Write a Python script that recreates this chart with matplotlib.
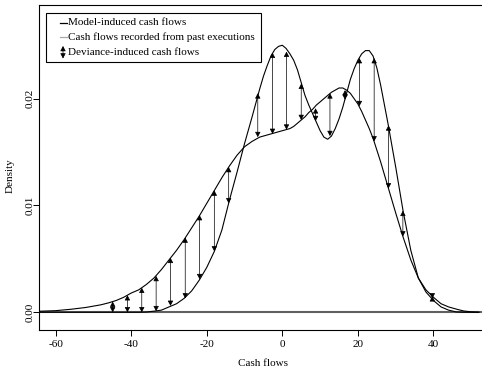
import matplotlib
matplotlib.use("Agg")
import matplotlib.pyplot as plt
from matplotlib.patches import Rectangle, FancyArrowPatch
from matplotlib.lines import Line2D

plt.rcParams["font.family"] = "Liberation Serif"
plt.rcParams["font.size"] = 8
plt.rcParams["axes.unicode_minus"] = False

# density curves
cash = [-64, -60, -56, -52, -48, -46, -44, -42, -40, -38, -36, -34, -32, -30, -28,
        -26, -24, -22, -20, -18, -16, -14, -12, -10, -8, -7, -6, -5, -4, -3, -2, -1,
        0, 1, 2, 3, 4, 5, 6, 7, 8, 9, 10, 11, 12, 13, 14, 15, 16, 17, 18, 19, 20,
        21, 22, 23, 24, 25, 26, 28, 30, 32, 34, 36, 38, 40, 42, 44, 46, 48, 50, 52]
model = [0, 0, 0, 0, 0, 0, 0, 0, 0, 0, 0.00002, 0.0001, 0.0002, 0.0005, 0.0008,
         0.0013, 0.0020, 0.0030, 0.0042, 0.0057, 0.0077, 0.0105, 0.0131, 0.0158,
         0.0183, 0.0196, 0.0209, 0.0221, 0.0231, 0.0240, 0.0246, 0.0249,
         0.0250, 0.0247, 0.0242, 0.0236, 0.0227, 0.0215, 0.0203, 0.0194, 0.0186,
         0.0178, 0.0170, 0.0164, 0.0162, 0.0165, 0.0172, 0.0181, 0.0192, 0.0205,
         0.0218, 0.0228, 0.0236, 0.0242, 0.0245, 0.0245, 0.0240, 0.0229, 0.0213,
         0.0176, 0.0136, 0.0094, 0.0058, 0.0032, 0.0019, 0.0011, 0.0005, 0.0002,
         0.00003, 0, 0, 0]
recorded = [0.0001, 0.00015, 0.00028, 0.00045, 0.0007, 0.00088, 0.0011, 0.0014,
            0.0018, 0.0021, 0.0026, 0.0032, 0.0040, 0.0049, 0.0058, 0.0068, 0.0079,
            0.0090, 0.0102, 0.0114, 0.0126, 0.0137, 0.0147, 0.0155, 0.0160, 0.0162,
            0.0164, 0.0165, 0.0166, 0.0167, 0.0168, 0.0169, 0.0170, 0.0171, 0.0172,
            0.0174, 0.0177, 0.0180, 0.0183, 0.0187, 0.0190, 0.0194, 0.0197, 0.0200,
            0.0203, 0.0206, 0.0208, 0.0210, 0.0210, 0.0208, 0.0205, 0.0200, 0.0195,
            0.0188, 0.0180, 0.0172, 0.0163, 0.0152, 0.0141, 0.0117, 0.0093, 0.0070,
            0.0049, 0.0032, 0.0021, 0.0014, 0.0008, 0.0005, 0.0003, 0.00012,
            0.00004, 0]

# deviance arrows: position, upper end, lower end
arrow_x = [-44.9, -41.0, -37.2, -33.4, -29.6, -25.7, -21.9, -18.0, -14.2, -6.5,
           -2.6, 1.1, 5.0, 8.8, 12.6, 16.6, 20.4, 24.3, 28.1, 31.9, 39.7]
arrow_hi = [0.0010, 0.0016, 0.0023, 0.0034, 0.0051, 0.0070, 0.0091, 0.0114,
            0.0136, 0.0205, 0.0243, 0.0244, 0.0214, 0.0191, 0.0205, 0.0208,
            0.0238, 0.0238, 0.0175, 0.0095, 0.0015]
arrow_lo = [0.0, 0.0, 0.0, 0.0001, 0.0006, 0.0013, 0.0031, 0.0057, 0.0102,
            0.0164, 0.0167, 0.0171, 0.0180, 0.0179, 0.0165, 0.0199, 0.0193,
            0.0160, 0.0116, 0.0071, 0.0013]

labels = ["Model-induced cash flows",
          "Cash flows recorded from past executions",
          "Deviance-induced cash flows"]

W, H = 482, 371
fig = plt.figure(figsize=(W / 100, H / 100), dpi=100)
ax = fig.add_axes([39 / W, 1 - 330 / H, (486 - 39) / W, (330 - 5) / H])

ax.axhline(0, color="#606060", lw=1.5, zorder=1)
ax.plot(cash, recorded, color="black", lw=0.8, zorder=2)
ax.plot(cash, model, color="black", lw=0.8, zorder=2)

astyle = "<|-|>,head_length=0.3,head_width=0.16"
for x, hi, lo in zip(arrow_x, arrow_hi, arrow_lo):
    ax.annotate("", xy=(x, hi), xytext=(x, lo),
                arrowprops=dict(arrowstyle=astyle, color="black", lw=0.5,
                                shrinkA=0, shrinkB=0, mutation_scale=10))

ax.set_xlim(-64.4, 53.9)
ax.set_ylim(-0.00166, 0.02877)
xt = [-60, -40, -20, 0, 20, 40]
ax.set_xticks(xt)
ax.set_xticklabels([str(v) for v in xt])
yt = [0.0, 0.01, 0.02]
ax.set_yticks(yt)
ax.set_yticklabels(["%.2f" % v for v in yt], rotation=90, va="center")
ax.tick_params(axis="x", length=4.3, width=0.7, pad=2.7)
ax.tick_params(axis="y", length=4.3, width=0.7, pad=-1.4)
for s in ax.spines.values():
    s.set_linewidth(0.8)

fig.text(262.5 / W, 1 - 363 / H, "Cash flows", ha="center", va="center")
fig.text(10 / W, 1 - 176 / H, "Density", rotation=90, ha="center", va="center")

# legend drawn by hand in pixel positions
def fx(px):
    return px / W

def fy(py):
    return 1 - py / H

fig.add_artist(Rectangle((fx(46), fy(62)), fx(261) - fx(46), fy(13) - fy(62),
                         transform=fig.transFigure, facecolor="white",
                         edgecolor="black", lw=0.8, zorder=5))
rows = [22.7, 37.3, 52.3]
fig.add_artist(Line2D([fx(60), fx(66.5)], [fy(rows[0])] * 2, color="black",
                      lw=0.9, transform=fig.transFigure, zorder=6))
fig.add_artist(Line2D([fx(60), fx(66.5)], [fy(rows[1])] * 2, color="#a8a8a8",
                      lw=0.9, transform=fig.transFigure, zorder=6))
fig.add_artist(FancyArrowPatch((fx(63), fy(58.5)), (fx(63), fy(46)),
                               arrowstyle=astyle, mutation_scale=10, lw=0.5,
                               color="black", shrinkA=0, shrinkB=0,
                               transform=fig.transFigure, zorder=6))
for r, lab in zip(rows, labels):
    fig.text(fx(68), fy(r), lab, ha="left", va="center", zorder=7)

fig.savefig("out.png", dpi=100)
